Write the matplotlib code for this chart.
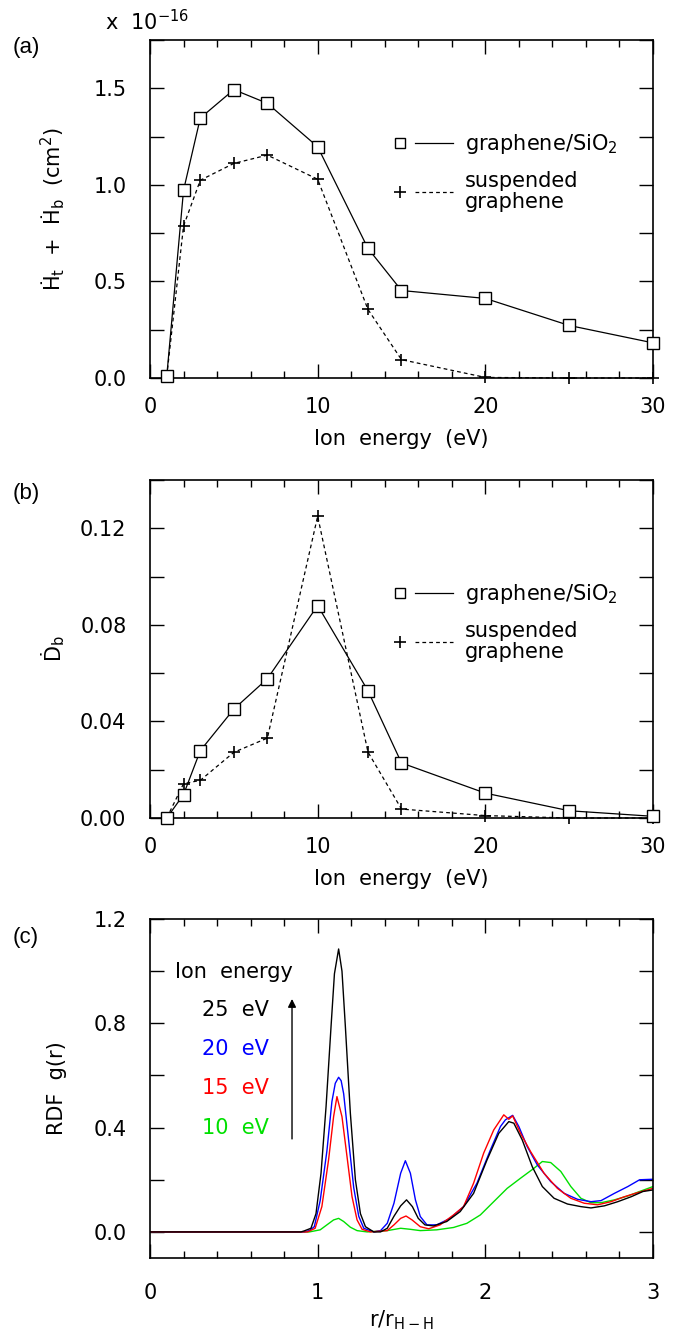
import matplotlib
matplotlib.use("Agg")
import matplotlib.pyplot as plt
from matplotlib.lines import Line2D
from matplotlib.legend_handler import HandlerBase
from matplotlib.ticker import MultipleLocator, FuncFormatter

# ion energies (eV)
energy = [1, 2, 3, 5, 7, 10, 13, 15, 20, 25, 30]

# panel (a): Ht + Hb  (x 1e-16 cm^2)
h_sio2 = [0.01, 0.972, 1.346, 1.493, 1.422, 1.197, 0.671, 0.453, 0.412, 0.272, 0.182]
h_susp = [0.01, 0.787, 1.024, 1.111, 1.154, 1.029, 0.355, 0.095, 0.003, 0.0, 0.0]

# panel (b): Db
d_sio2 = [0.0, 0.0097, 0.0279, 0.0451, 0.0577, 0.088, 0.0527, 0.0228, 0.0103, 0.003, 0.0007]
d_susp = [0.0, 0.0142, 0.0156, 0.0272, 0.0331, 0.125, 0.0273, 0.0037, 0.001, 0.0, 0.0]

# panel (c): RDF g(r)
r_25 = [0, 0.90, 0.92, 0.96, 0.99, 1.02, 1.05, 1.08, 1.10, 1.125, 1.145, 1.165, 1.195, 1.225, 1.255,
        1.285, 1.335, 1.375, 1.415, 1.455, 1.495, 1.53, 1.565, 1.60, 1.64, 1.69, 1.77, 1.85, 1.93,
        2.01, 2.08, 2.14, 2.17, 2.22, 2.28, 2.34, 2.41, 2.49, 2.57, 2.63, 2.71, 2.79, 2.87, 2.94, 3.0]
g_25 = [0, 0, 0.004, 0.014, 0.07, 0.225, 0.48, 0.79, 0.99, 1.085, 1.0, 0.79, 0.455, 0.2, 0.07,
        0.02, 0.0, 0.0, 0.014, 0.06, 0.10, 0.123, 0.097, 0.052, 0.027, 0.023, 0.04, 0.078, 0.148,
        0.276, 0.378, 0.423, 0.417, 0.353, 0.25, 0.174, 0.129, 0.107, 0.097, 0.092, 0.1, 0.116, 0.135, 0.155, 0.161]

r_20 = [0, 0.92, 0.95, 0.98, 1.015, 1.055, 1.085, 1.105, 1.125, 1.14, 1.155, 1.185, 1.215, 1.245,
        1.275, 1.335, 1.375, 1.415, 1.455, 1.495, 1.523, 1.553, 1.583, 1.612, 1.652, 1.71, 1.79,
        1.87, 1.95, 2.03, 2.09, 2.12, 2.163, 2.20, 2.25, 2.31, 2.39, 2.47, 2.55, 2.63, 2.69, 2.77,
        2.85, 2.92, 3.0]
g_20 = [0, 0, 0.005, 0.02, 0.12, 0.31, 0.5, 0.57, 0.593, 0.58, 0.53, 0.35, 0.17, 0.06,
        0.014, 0.0, 0.005, 0.033, 0.11, 0.225, 0.273, 0.225, 0.123, 0.059, 0.027, 0.027, 0.052,
        0.097, 0.187, 0.314, 0.404, 0.43, 0.447, 0.404, 0.327, 0.257, 0.193, 0.148, 0.125, 0.116,
        0.12, 0.148, 0.174, 0.2, 0.202]

r_15 = [0, 0.94, 0.985, 1.025, 1.065, 1.095, 1.115, 1.145, 1.175, 1.205, 1.235, 1.265, 1.315,
        1.415, 1.455, 1.495, 1.527, 1.563, 1.612, 1.662, 1.73, 1.81, 1.87, 1.93, 1.99, 2.05, 2.11,
        2.14, 2.163, 2.21, 2.27, 2.35, 2.43, 2.51, 2.59, 2.67, 2.75, 2.83, 2.91, 3.0]
g_15 = [0, 0, 0.014, 0.097, 0.276, 0.442, 0.519, 0.442, 0.289, 0.135, 0.046, 0.01, 0.0,
        0.005, 0.027, 0.052, 0.061, 0.046, 0.02, 0.012, 0.027, 0.065, 0.097, 0.187, 0.302, 0.391,
        0.449, 0.432, 0.445, 0.378, 0.308, 0.225, 0.167, 0.129, 0.11, 0.104, 0.116, 0.135, 0.151, 0.167]

r_10 = [0, 0.95, 1.015, 1.055, 1.095, 1.125, 1.155, 1.195, 1.235, 1.295, 1.415, 1.495, 1.553,
        1.612, 1.71, 1.81, 1.89, 1.97, 2.05, 2.13, 2.21, 2.29, 2.34, 2.39, 2.45, 2.51, 2.57, 2.63,
        2.69, 2.77, 2.85, 2.92, 3.0]
g_10 = [0, 0, 0.008, 0.027, 0.046, 0.052, 0.04, 0.018, 0.005, 0.0, 0.005, 0.014, 0.01,
        0.005, 0.008, 0.017, 0.033, 0.065, 0.116, 0.167, 0.206, 0.244, 0.27, 0.266, 0.232, 0.174,
        0.129, 0.112, 0.112, 0.123, 0.138, 0.155, 0.174]

rdf_labels = ["25  eV", "20  eV", "15  eV", "10  eV"]
rdf_colors = ["black", "#0000ff", "#ff0000", "#00e000"]

plt.rcParams['font.family'] = 'DejaVu Sans'
plt.rcParams['font.size'] = 15
plt.rcParams['mathtext.fontset'] = 'dejavusans'
FS = 15


class MarkerThenLine(HandlerBase):
    # legend key: marker on the left, then a short line
    def create_artists(self, legend, orig_handle, xdescent, ydescent,
                       width, height, fontsize, trans):
        mk, ln = orig_handle
        y = height / 2 - ydescent
        x0 = -xdescent
        m = Line2D([x0 + 4.3], [y])
        m.update_from(mk)
        m.set_linestyle('none')
        l = Line2D([x0 + 15, x0 + width], [y, y])
        l.update_from(ln)
        l.set_marker('')
        m.set_transform(trans)
        l.set_transform(trans)
        return [l, m]


def style_axis(ax, xmaj, xmin, ystep, ylab_step, yfmt, xpad=14):
    ax.xaxis.set_major_locator(MultipleLocator(xmaj))
    ax.xaxis.set_minor_locator(MultipleLocator(xmin))
    ax.yaxis.set_major_locator(MultipleLocator(ystep))
    ax.yaxis.set_major_formatter(FuncFormatter(
        lambda v, p: (yfmt % v) if abs(round(v / ylab_step) * ylab_step - v) < 1e-9 else ''))
    ax.tick_params(which='both', direction='in', top=True, right=True, width=1.0)
    ax.tick_params(which='major', length=10, labelsize=FS)
    ax.tick_params(which='minor', length=5)
    ax.tick_params(axis='x', which='major', pad=xpad)
    ax.tick_params(axis='y', which='major', pad=17)
    for s in ax.spines.values():
        s.set_linewidth(1.2)


def add_legend(ax, h1, h2, ytop):
    leg = ax.legend([h1, h2], ['graphene/SiO$_2$', 'suspended\ngraphene'],
                    handler_map={tuple: MarkerThenLine()}, loc='upper left',
                    bbox_to_anchor=(0.485, ytop), frameon=False, borderpad=0,
                    borderaxespad=0, handlelength=2.83, handletextpad=0.57,
                    labelspacing=0.7, fontsize=FS)
    for t in leg.get_texts():
        t.set_linespacing(1.08)
    return leg


def panel_ab(ax, y1, y2, ylim):
    ax.plot(energy, y2, color='k', lw=0.9, ls=(0, (3, 2.5)),
            marker='+', ms=9, mew=1.2, zorder=3, clip_on=False)
    ax.plot(energy, y1, color='k', lw=0.9, marker='s', ms=8.5,
            mfc='white', mec='k', mew=1.0, zorder=4, clip_on=False)
    ax.set_xlim(0, 30)
    ax.set_ylim(*ylim)
    ax.set_xlabel('Ion  energy  (eV)', fontsize=FS, labelpad=8)
    h1 = (Line2D([], [], marker='s', ms=7, mfc='white', mec='k', mew=1.0, color='k'),
          Line2D([], [], color='k', lw=0.9))
    h2 = (Line2D([], [], marker='+', ms=8, mew=1.2, color='k'),
          Line2D([], [], color='k', lw=0.9, ls=(0, (3, 2.5))))
    return h1, h2


fig = plt.figure(figsize=(6.81, 13.33), dpi=100)
W, H = 681.0, 1333.0

# (a)
ax_a = fig.add_axes([150 / W, 1 - 378 / H, 503 / W, 338 / H])
h1, h2 = panel_ab(ax_a, h_sio2, h_susp, (0, 1.75))
style_axis(ax_a, 10, 2, 0.25, 0.5, '%.1f')
ax_a.set_ylabel('Ḣ$_\\mathrm{t}$  +  Ḣ$_\\mathrm{b}$  (cm$^2$)', fontsize=FS)
ax_a.yaxis.set_label_coords(-0.165, 0.5)
add_legend(ax_a, h1, h2, 0.728)
fig.text(105 / W, 1 - 30 / H, 'x  10$^{-16}$', fontsize=FS, va='baseline', ha='left')

# (b)
ax_b = fig.add_axes([150 / W, 1 - 818 / H, 503 / W, 338 / H])
h1, h2 = panel_ab(ax_b, d_sio2, d_susp, (0, 0.14))
style_axis(ax_b, 10, 2, 0.02, 0.04, '%.2f')
ax_b.set_ylabel('Ḋ$_\\mathrm{b}$', fontsize=FS)
ax_b.yaxis.set_label_coords(-0.165, 0.5)
add_legend(ax_b, h1, h2, 0.698)

# (c)
ax_c = fig.add_axes([150 / W, 1 - 1258 / H, 503 / W, 339 / H])
for r, g, c in [(r_10, g_10, rdf_colors[3]), (r_20, g_20, rdf_colors[1]),
                (r_15, g_15, rdf_colors[2]), (r_25, g_25, rdf_colors[0])]:
    ax_c.plot(r, g, color=c, lw=1.0)
ax_c.set_xlim(0, 3)
ax_c.set_ylim(-0.1, 1.2)
style_axis(ax_c, 1, 0.2, 0.2, 0.4, '%.1f', xpad=18)
ax_c.set_xlabel('r/r$_\\mathrm{H-H}$', fontsize=FS, labelpad=4)
ax_c.set_ylabel('RDF  g(r)', fontsize=FS)
ax_c.yaxis.set_label_coords(-0.165, 0.5)
ax_c.text(0.149, 0.996, 'Ion  energy', fontsize=FS, va='center', ha='left')
for lab, c, yy in zip(rdf_labels, rdf_colors, [0.85, 0.70, 0.55, 0.40]):
    ax_c.text(0.31, yy, lab, color=c, fontsize=FS, va='center', ha='left')
ax_c.annotate('', xy=(0.847, 0.904), xytext=(0.847, 0.346),
              arrowprops=dict(arrowstyle='-|>', color='k', lw=1.0, mutation_scale=12))

for lab, yy in [('(a)', 48), ('(b)', 493), ('(c)', 938)]:
    fig.text(13 / W, 1 - yy / H, lab, fontsize=16, family='Liberation Sans',
             va='center', ha='left')

fig.savefig('out.png', dpi=100)
